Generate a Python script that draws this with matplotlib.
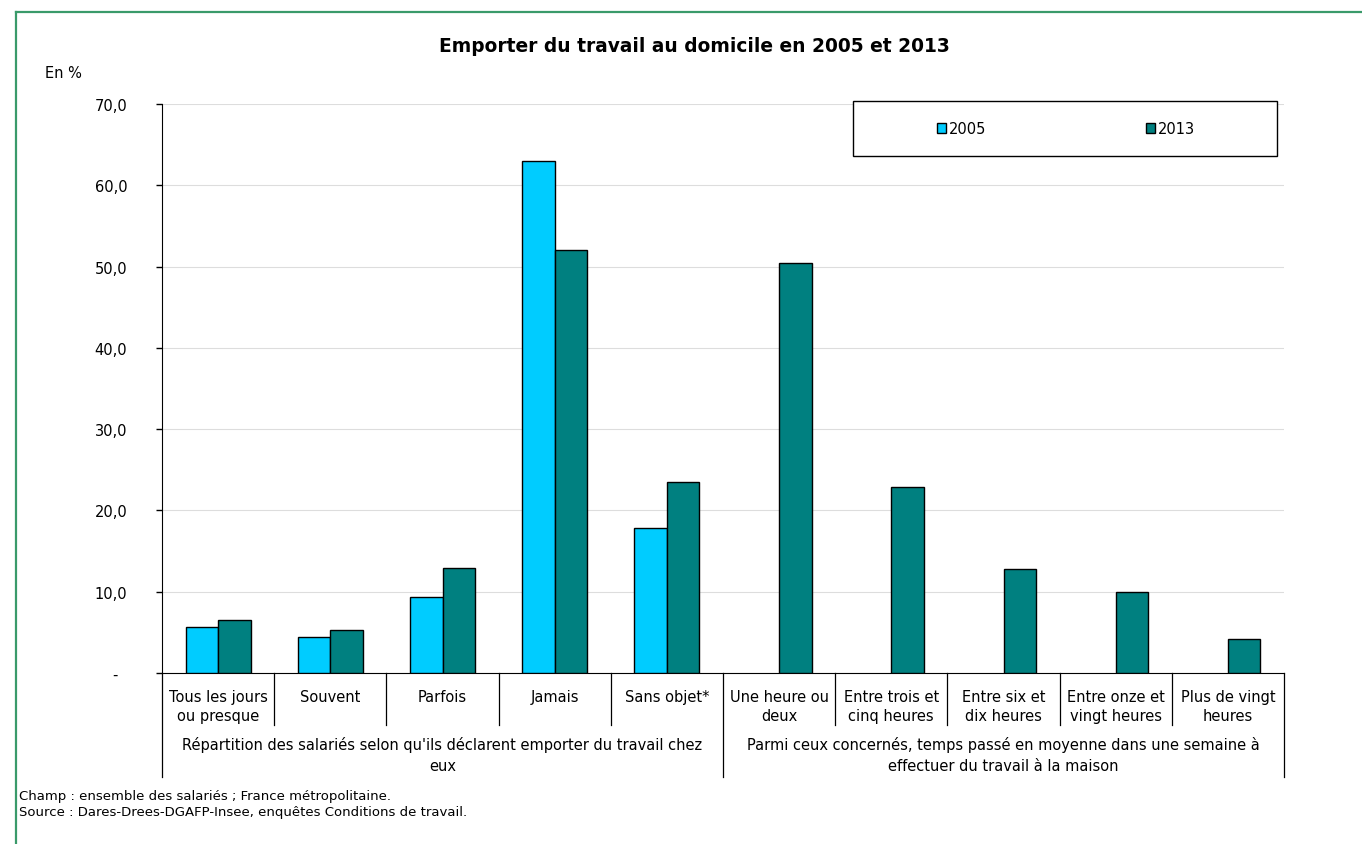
import numpy as np
import matplotlib.pyplot as plt
from matplotlib.lines import Line2D
from matplotlib.patches import Rectangle

categories = ["Tous les jours\nou presque", "Souvent", "Parfois", "Jamais", "Sans objet*",
              "Une heure ou\ndeux", "Entre trois et\ncinq heures", "Entre six et\ndix heures",
              "Entre onze et\nvingt heures", "Plus de vingt\nheures"]
groups = ["Répartition des salariés selon qu'ils déclarent emporter du travail chez\neux",
          "Parmi ceux concernés, temps passé en moyenne dans une semaine à\neffectuer du travail à la maison"]
group_sizes = [5, 5]
v2005 = [5.7, 4.4, 9.4, 63.0, 17.8, np.nan, np.nan, np.nan, np.nan, np.nan]
v2013 = [6.5, 5.3, 12.9, 52.0, 23.5, 50.4, 22.9, 12.8, 10.0, 4.2]

W, H = 1362, 845
plt.rcParams['font.family'] = 'DejaVu Sans'
fig = plt.figure(figsize=(W / 100, H / 100), dpi=100)

# plot area in pixels
x0, x1, y0, y1 = 162, 1284, 105, 674
ax = fig.add_axes([x0 / W, 1 - y1 / H, (x1 - x0) / W, (y1 - y0) / H])

fs = 10.5
x = np.arange(len(categories))
w = 0.29
ax.bar(x - w / 2, v2005, w, color="#00CCFF", edgecolor="black", linewidth=1, label="2005", zorder=3)
ax.bar(x + w / 2, v2013, w, color="#008080", edgecolor="black", linewidth=1, label="2013", zorder=3)

ax.set_xlim(-0.5, len(categories) - 0.5)
ax.set_ylim(0, 70)
yt = np.arange(0, 71, 10)
ax.set_yticks(yt)
ax.set_yticklabels(["-  " if v == 0 else f"{v:.1f}".replace(".", ",") for v in yt])
ax.tick_params(axis="y", length=4, width=1, pad=21, labelsize=fs, direction="out")
ax.set_xticks([])
ax.grid(axis="y", color="#dddddd", linewidth=0.8, zorder=0)
for s in ["top", "right"]:
    ax.spines[s].set_visible(False)

ah = y1 - y0
tr = ax.get_xaxis_transform()
# category labels
for i, c in enumerate(categories):
    ax.text(i, -16 / ah, c, transform=tr, ha="center", va="top", fontsize=fs, linespacing=1.3)
# separators
for b in np.arange(len(categories) + 1) - 0.5:
    bottom = -104 / ah
    if b not in (-0.5, 4.5, 9.5):
        bottom = -52 / ah
    ax.add_line(Line2D([b, b], [0, bottom], transform=tr, color="black", linewidth=0.9, clip_on=False))
# group labels
start = 0
for g, n in zip(groups, group_sizes):
    cx = start + (n - 1) / 2
    ax.text(cx, -63 / ah, g, transform=tr, ha="center", va="top", fontsize=fs, linespacing=1.5)
    start += n

# legend box
fig.add_artist(Rectangle((853 / W, 1 - 157 / H), (1277 - 853) / W, 55 / H, transform=fig.transFigure,
                         facecolor="white", edgecolor="black", linewidth=1, zorder=5))
leg = fig.legend(loc="center", bbox_to_anchor=(1066 / W, 1 - 129.5 / H), ncol=2, frameon=False,
                 fontsize=fs, handlelength=0.62, handleheight=0.62, handletextpad=0.15,
                 columnspacing=11.0, borderaxespad=0)
leg.set_zorder(6)

fig.text(694 / W, 1 - 46 / H, "Emporter du travail au domicile en 2005 et 2013", ha="center", va="center",
         fontsize=13.4, fontweight="bold")
fig.text(45 / W, 1 - 74 / H, "En %", ha="left", va="center", fontsize=fs)
fig.text(19 / W, 1 - 797 / H, "Champ : ensemble des salariés ; France métropolitaine.", ha="left",
         va="center", fontsize=9.5)
fig.text(19 / W, 1 - 813 / H, "Source : Dares-Drees-DGAFP-Insee, enquêtes Conditions de travail.", ha="left",
         va="center", fontsize=9.5)

# green frame
green = "#3a9a6a"
fig.add_artist(Line2D([16 / W, 1], [1 - 13 / H, 1 - 13 / H], transform=fig.transFigure, color=green, linewidth=1.6))
fig.add_artist(Line2D([16 / W, 16 / W], [1 - 13 / H, 0], transform=fig.transFigure, color=green, linewidth=1.6))

fig.savefig("out.png", dpi=100)
